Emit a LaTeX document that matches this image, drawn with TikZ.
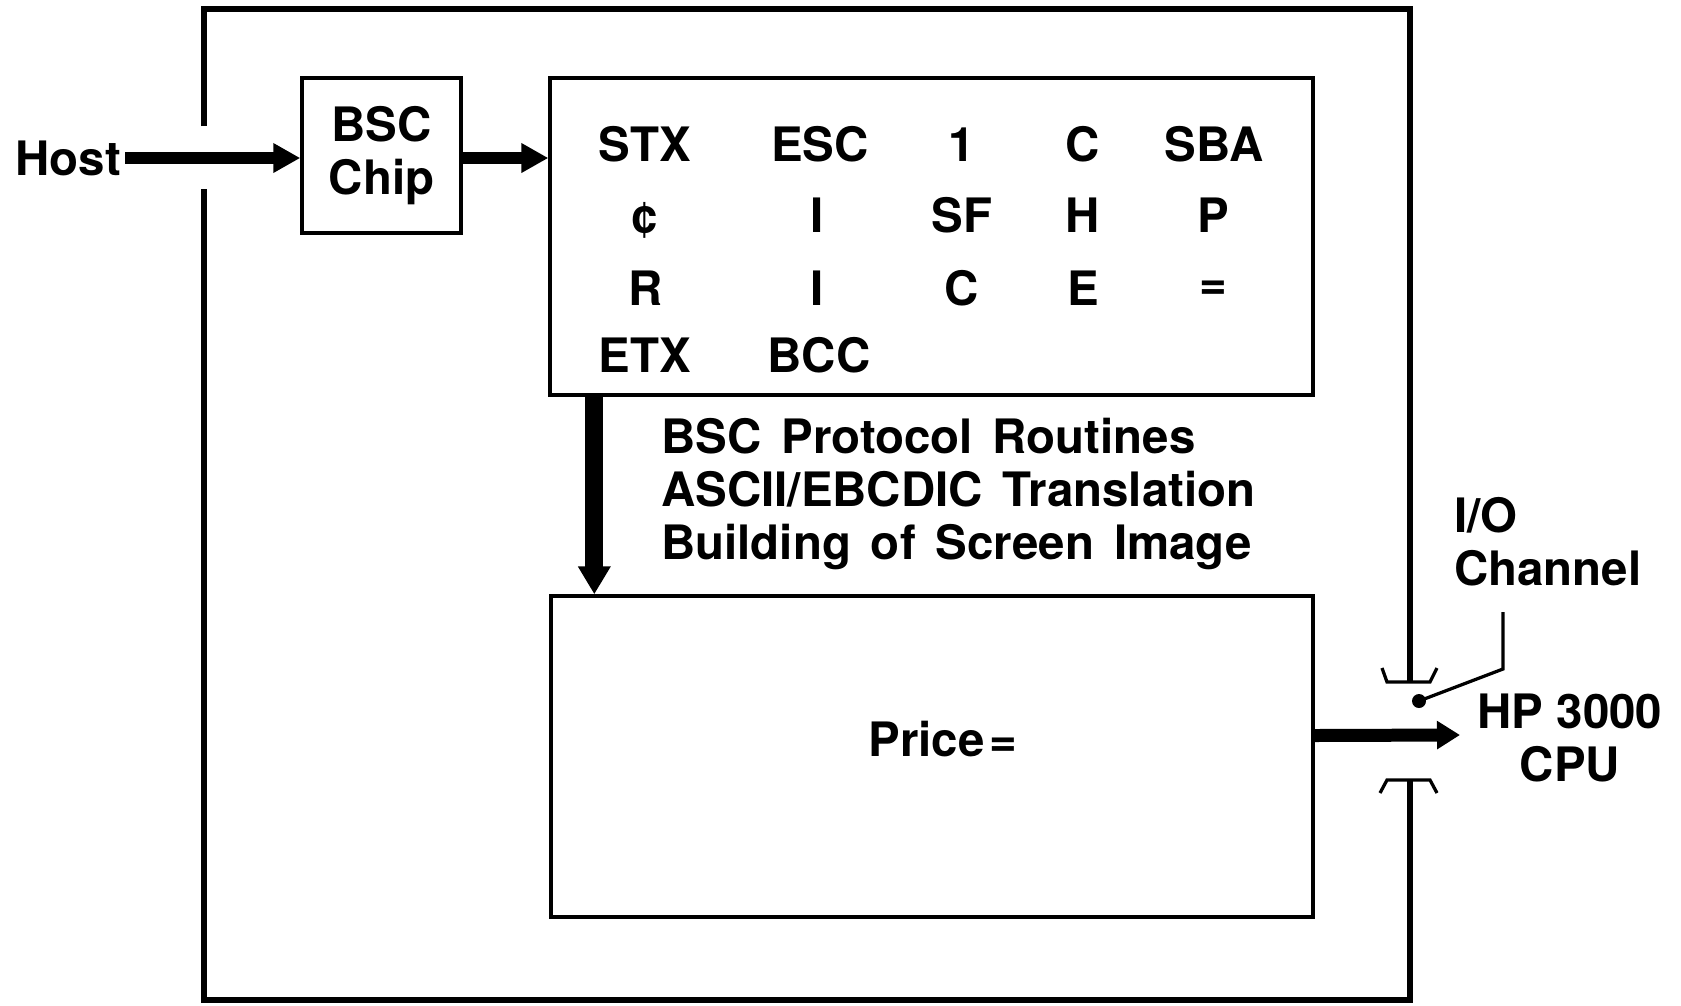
\documentclass[tikz,border=0pt]{standalone}
\usepackage{fontspec}
\setmainfont{TeX Gyre Heros}
\usetikzlibrary{arrows.meta}
\newcommand\protofont{\bfseries\fontsize{27}{30}\selectfont\spaceskip 0.42em\relax}

\begin{document}
\begin{tikzpicture}[
        x=0.02cm, y=-0.02cm,
        font=\bfseries\fontsize{27}{30}\selectfont,
        box/.style={draw, rectangle, line width=0.07cm, inner sep=0pt},
        lbl/.style={inner sep=0pt, anchor=base},
        widetext/.style={inner sep=0pt, align=left, font={\protofont}},
        arrow/.style={line width=0.24cm, -{Triangle[length=0.54cm,width=0.56cm]}},
        bigarrow/.style={line width=0.36cm, -{Triangle[length=0.56cm,width=0.62cm]}},
        outarrow/.style={line width=0.26cm, -{Triangle[length=0.46cm,width=0.54cm]}},
        wall/.style={line width=0.13cm, line join=miter},
        lip/.style={line width=0.065cm}
    ]
        \useasboundingbox (0,0) rectangle (1681,1005);

        % outer case with openings for host line and I/O channel
        \draw[wall] (204,126) -- (204,9) -- (1410,9) -- (1410,682);
        \draw[wall] (1410,780) -- (1410,1000) -- (204,1000) -- (204,189);
        \draw[lip] (1382,668) -- (1387,682) -- (1430,682) -- (1437,668);
        \draw[lip] (1380,793) -- (1387,780) -- (1430,780) -- (1437,793);

        % switch
        \coordinate (pivot) at (1419,701);
        \fill (pivot) circle (0.14cm);
        \draw[lip] (pivot) -- ++(84,-32) -- ++(0,-57);

        \node[box, minimum width=3.18cm, minimum height=3.1cm, align=center] (bsc) at (381.5,155.5) {BSC\\Chip};
        \node[box, minimum width=15.26cm, minimum height=6.34cm] (grid) at (931.5,236.5) {};
        \node[box, minimum width=15.24cm, minimum height=6.42cm] (price) at (932,756.5) {};

        \node[inner sep=2pt, anchor=east] (host) at (125,158) {Host};
        \node[inner sep=0pt] (pricetxt) at (943,739) {Price\kern3pt=};
        \node[widetext, anchor=west] (proto) at (661,494) {BSC Protocol Routines\\ASCII/EBCDIC Translation\\Building of Screen Image};
        \node[inner sep=0pt, anchor=west, align=left] (io) at (1454,542) {I/O\\Channel};
        \node[inner sep=0pt, align=center] (cpu) at (1570,738) {HP 3000\\CPU};
        \coordinate (cpuin) at (1460,735);

        % buffer contents
        \foreach \nm/\txt/\px/\py in {stx/STX/645/161, esc/ESC/820/161, one/1/962/161, ca/C/1083/161, sba/SBA/1214/161,
                cent/¢/645/232, ia/I/817/232, sf/SF/962/232, h/H/1083/232, p/P/1213/232,
                r/R/646/305, ib/I/817/305, cb/C/962/305, e/E/1083/305, eq/=/1213/299,
                etx/ETX/645/372, bcc/BCC/819/372}
            \node[lbl] (\nm) at (\px,\py) {\txt};

        \draw[arrow] (host.east) -- (host.east -| bsc.west);
        \draw[arrow] (host.east -| bsc.east) -- (host.east -| grid.west);
        \draw[bigarrow] ([xshift=0.92cm]grid.south west) -- ([xshift=0.92cm]grid.south west |- price.north);
        \draw[outarrow] ([yshift=0.42cm]price.east) -- (cpuin);
    \end{tikzpicture}
\end{document}
